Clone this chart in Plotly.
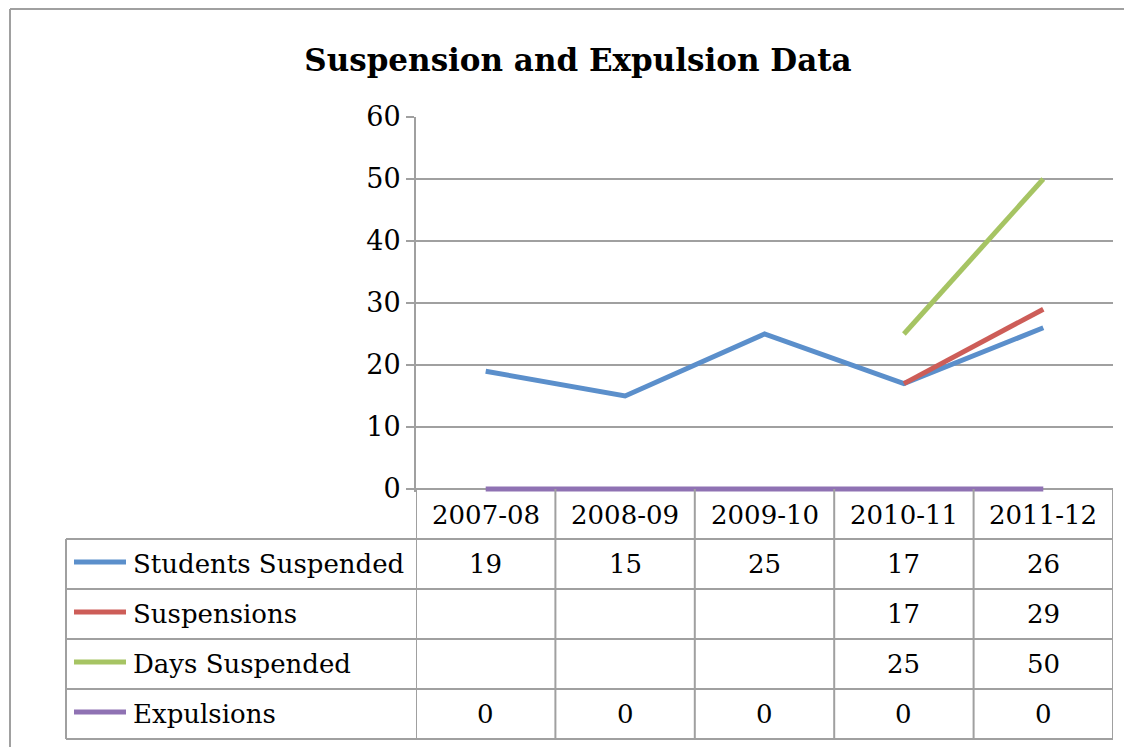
import plotly.graph_objects as go

# Data
years = ["2007-08", "2008-09", "2009-10", "2010-11", "2011-12"]
students_suspended = [19, 15, 25, 17, 26]
suspensions = [None, None, None, 17, 29]
days_suspended = [None, None, None, 25, 50]
expulsions = [0, 0, 0, 0, 0]
y_ticks = [0, 10, 20, 30, 40, 50, 60]

series = [
    ("Students Suspended", students_suspended, "#5B8FCB"),
    ("Suspensions", suspensions, "#CD5D58"),
    ("Days Suspended", days_suspended, "#A6C463"),
    ("Expulsions", expulsions, "#8F72B3"),
]

W, H = 1132, 747
OFF = 8  # page body margin
FONT = "DejaVu Serif"
GRID = "#A0A0A0"

# y axis: 60 at pixel 117, 0 at pixel 489; a little headroom below 0 so the
# purple line at zero is not clipped
Y_LO = -0.5
PX_PER_UNIT = (489 - 117) / 60


def px(x):
    return (x - OFF) / W


def py(y):
    return 1 - (y - OFF) / H


fig = go.Figure()

for name, vals, color in series:
    fig.add_trace(go.Scatter(
        x=list(range(len(years))),
        y=vals,
        mode="lines",
        name=name,
        line=dict(color=color, width=5),
        connectgaps=False,
        showlegend=False,
    ))

shapes = []
annotations = []

# outer chart border (left and top)
shapes.append(dict(type="line", xref="paper", yref="paper", x0=px(10), x1=px(10),
                   y0=py(9), y1=0, line=dict(color=GRID, width=2)))
shapes.append(dict(type="line", xref="paper", yref="paper", x0=px(10), x1=1,
                   y0=py(9), y1=py(9), line=dict(color=GRID, width=2)))

# data table grid
for i in range(len(years) + 1):
    shapes.append(dict(type="line", xref="x", yref="paper", x0=i - 0.5, x1=i - 0.5,
                       y0=py(489), y1=py(739), line=dict(color=GRID, width=2)))
shapes.append(dict(type="line", xref="paper", yref="paper", x0=px(66), x1=px(66),
                   y0=py(539), y1=py(739), line=dict(color=GRID, width=2)))
for yy in [539, 589, 639, 689, 739]:
    shapes.append(dict(type="line", xref="paper", yref="paper", x0=px(66), x1=px(1113),
                       y0=py(yy), y1=py(yy), line=dict(color=GRID, width=2)))

# header row
for i, yr in enumerate(years):
    annotations.append(dict(x=i, y=py(515), xref="x", yref="paper", text=yr,
                            xanchor="center", yanchor="middle",
                            showarrow=False, font=dict(family=FONT, size=26, color="black")))

# series rows
row_centers = [564, 614, 664, 714]
for (name, vals, color), rc in zip(series, row_centers):
    shapes.append(dict(type="line", xref="paper", yref="paper", x0=px(74), x1=px(126),
                       y0=py(rc - 2), y1=py(rc - 2), line=dict(color=color, width=5)))
    annotations.append(dict(x=px(131), y=py(rc), xref="paper", yref="paper", text=name,
                            xanchor="left", yanchor="middle", showarrow=False,
                            font=dict(family=FONT, size=26, color="black")))
    for i, v in enumerate(vals):
        if v is None:
            continue
        annotations.append(dict(x=i, y=py(rc), xref="x", yref="paper", text=str(v),
                                xanchor="center", yanchor="middle", showarrow=False,
                                font=dict(family=FONT, size=26, color="black")))

fig.update_layout(
    width=W,
    height=H,
    margin=dict(l=0, r=0, t=0, b=0, autoexpand=False),
    paper_bgcolor="white",
    plot_bgcolor="white",
    title=dict(text="<b>Suspension and Expulsion Data</b>", x=px(578), xanchor="center",
               y=py(60), yanchor="middle", font=dict(family=FONT, size=31, color="black")),
    xaxis=dict(domain=[px(416), px(1113)], range=[-0.5, len(years) - 0.5], automargin=False,
               showticklabels=False, showgrid=False, zeroline=False, fixedrange=True),
    yaxis=dict(domain=[py(489 - Y_LO * PX_PER_UNIT), py(117)], range=[Y_LO, 60],
               tickvals=y_ticks, automargin=False,
               showgrid=True, gridcolor=GRID, gridwidth=2, zeroline=False,
               showline=True, linecolor=GRID, linewidth=2,
               ticks="outside", ticklen=8, tickcolor=GRID, tickwidth=2,
               tickfont=dict(family=FONT, size=27, color="black")),
    shapes=shapes,
    annotations=annotations,
)

fig.write_html("out.html")
